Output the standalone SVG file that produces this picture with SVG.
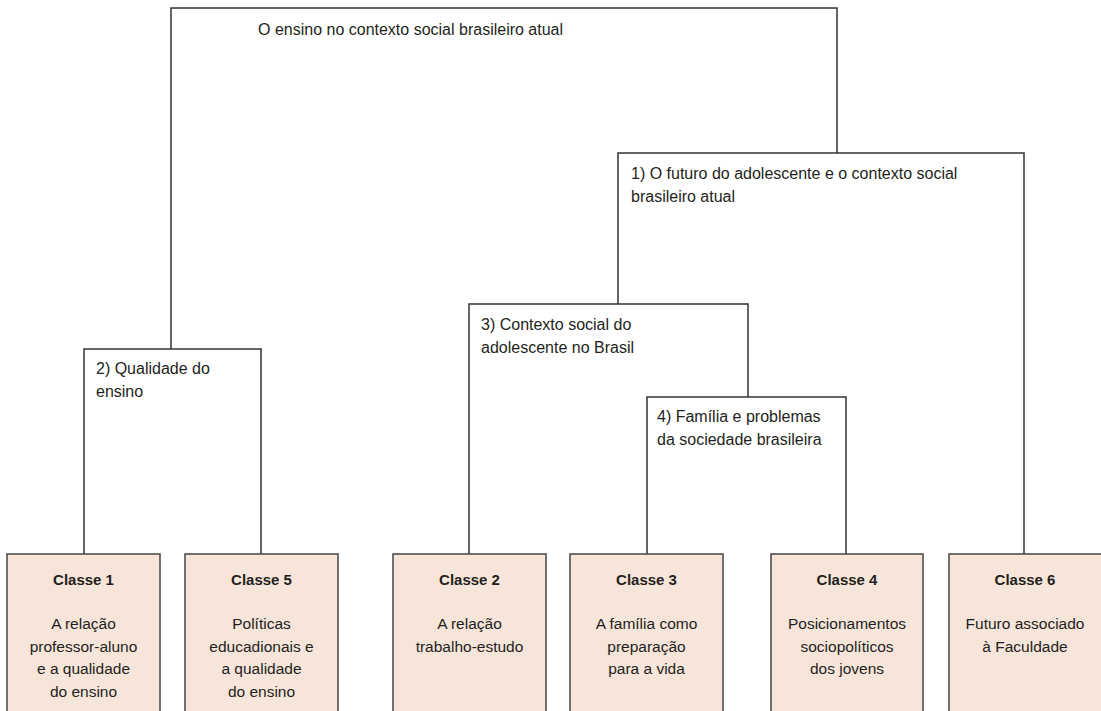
<svg xmlns="http://www.w3.org/2000/svg" width="1101" height="711" viewBox="0 0 1101 711">
<style>
.ln{fill:none;stroke:#333;stroke-width:1.5}
.box{fill:#f7e5da;stroke:#444;stroke-width:1.5}
text{font-family:"Liberation Sans",Arial,sans-serif;font-size:15.5px;fill:#231f20}
.lb{font-size:16px}
.t{font-weight:bold;font-size:15px}
.c{text-anchor:middle}
</style>
<rect width="1101" height="711" fill="#fff"/>
<g id="connectors">
<path class="ln" d="M171,349 V8 H837 V153"/>
<path class="ln" d="M84,554 V349 H261 V554"/>
<path class="ln" d="M618,304 V153 H1024 V554"/>
<path class="ln" d="M469,554 V304 H748 V397"/>
<path class="ln" d="M647,554 V397 H846 V554"/>
</g>
<g id="label-root"><text class="lb" x="258" y="35">O ensino no contexto social brasileiro atual</text></g>
<g id="label-1"><text class="lb" x="631" y="179">1) O futuro do adolescente e o contexto social</text><text class="lb" x="631" y="202">brasileiro atual</text></g>
<g id="label-2"><text class="lb" x="96" y="374">2) Qualidade do</text><text class="lb" x="96" y="397">ensino</text></g>
<g id="label-3"><text class="lb" x="481" y="330">3) Contexto social do</text><text class="lb" x="481" y="353">adolescente no Brasil</text></g>
<g id="label-4"><text class="lb" x="657" y="422">4) Família e problemas</text><text class="lb" x="657" y="445">da sociedade brasileira</text></g>
<g id="classe1"><rect class="box" x="7" y="554" width="153" height="170"/>
<text class="t c" x="83.5" y="585">Classe 1</text>
<text class="c" x="83.5" y="629">A relação</text><text class="c" x="83.5" y="652">professor-aluno</text><text class="c" x="83.5" y="674">e a qualidade</text><text class="c" x="83.5" y="697">do ensino</text></g>
<g id="classe5"><rect class="box" x="185" y="554" width="153" height="170"/>
<text class="t c" x="261.5" y="585">Classe 5</text>
<text class="c" x="261.5" y="629">Políticas</text><text class="c" x="261.5" y="652">educadionais e</text><text class="c" x="261.5" y="674">a qualidade</text><text class="c" x="261.5" y="697">do ensino</text></g>
<g id="classe2"><rect class="box" x="393" y="554" width="153" height="170"/>
<text class="t c" x="469.5" y="585">Classe 2</text>
<text class="c" x="469.5" y="629">A relação</text><text class="c" x="469.5" y="652">trabalho-estudo</text></g>
<g id="classe3"><rect class="box" x="570" y="554" width="153" height="170"/>
<text class="t c" x="646.5" y="585">Classe 3</text>
<text class="c" x="646.5" y="629">A família como</text><text class="c" x="646.5" y="652">preparação</text><text class="c" x="646.5" y="674">para a vida</text></g>
<g id="classe4"><rect class="box" x="771" y="554" width="152" height="170"/>
<text class="t c" x="847" y="585">Classe 4</text>
<text class="c" x="847" y="629">Posicionamentos</text><text class="c" x="847" y="652">sociopolíticos</text><text class="c" x="847" y="674">dos jovens</text></g>
<g id="classe6"><rect class="box" x="949" y="554" width="160" height="170"/>
<text class="t c" x="1025" y="585">Classe 6</text>
<text class="c" x="1025" y="629">Futuro associado</text><text class="c" x="1025" y="652">à Faculdade</text></g>
</svg>
